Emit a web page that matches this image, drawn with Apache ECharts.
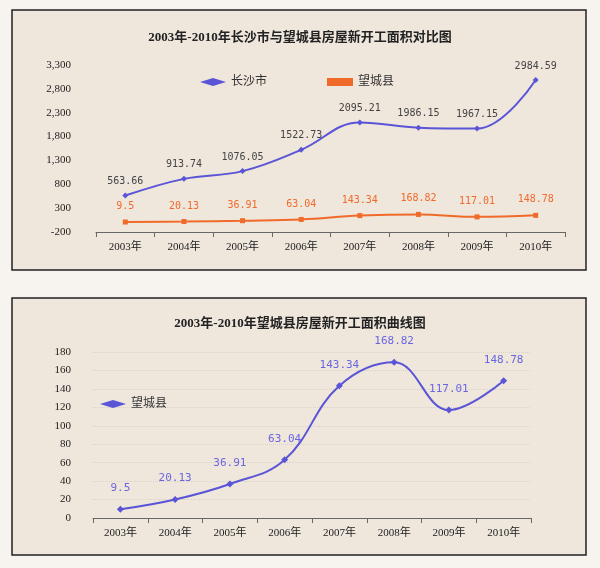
<!DOCTYPE html>
<html>
<head>
<meta charset="utf-8">
<script src="https://cdn.jsdelivr.net/npm/echarts@6/dist/echarts.min.js"></script>
<style>html,body{margin:0;padding:0;background:#f7f3ee;}#container{width:600px;height:568px;}</style>
</head>
<body>
<div id="container"></div>
<script>
var years = ['2003年', '2004年', '2005年', '2006年', '2007年', '2008年', '2009年', '2010年'];
var changsha = [563.66, 913.74, 1076.05, 1522.73, 2095.21, 1986.15, 1967.15, 2984.59];
var wangcheng = [9.5, 20.13, 36.91, 63.04, 143.34, 168.82, 117.01, 148.78];

var blue = '#5a55d6';
var orange = '#f06a2a';
var font = '"Liberation Serif", "Noto Sans CJK SC", serif';
var numFont = '"DejaVu Sans Mono", monospace';

var myChart = echarts.init(document.getElementById('container'));
var option = {
    backgroundColor: '#f7f3ee',
    graphic: [
        { type: 'rect', shape: { x: 12, y: 10, width: 574, height: 260 }, style: { fill: '#efe6dc', stroke: '#222', lineWidth: 1.5 }, z: -10 },
        { type: 'rect', shape: { x: 12, y: 298, width: 574, height: 257 }, style: { fill: '#efe6dc', stroke: '#222', lineWidth: 1.5 }, z: -10 }
    ],
    title: [
        { text: '2003年-2010年长沙市与望城县房屋新开工面积对比图', left: 'center', top: 26,
          textStyle: { fontSize: 13, fontWeight: 'bold', color: '#222', fontFamily: font } },
        { text: '2003年-2010年望城县房屋新开工面积曲线图', left: 'center', top: 312,
          textStyle: { fontSize: 13, fontWeight: 'bold', color: '#222', fontFamily: font } }
    ],
    legend: [
        { left: 195, top: 71, itemGap: 60, itemWidth: 26, itemHeight: 8,
          textStyle: { fontSize: 12, color: '#333', fontFamily: font },
          data: [{ name: '长沙市', icon: 'diamond', itemStyle: { color: blue }, lineStyle: { color: blue } },
                 { name: '望城县', icon: 'rect', itemStyle: { color: orange }, lineStyle: { color: orange } }] },
        { left: 95, top: 393, itemWidth: 26, itemHeight: 8,
          textStyle: { fontSize: 12, color: '#333', fontFamily: font },
          data: [{ name: '望城县', icon: 'diamond', itemStyle: { color: blue }, lineStyle: { color: blue } }] }
    ],
    grid: [
        { left: 96, right: 35, top: 65, height: 167 },
        { left: 93, right: 69, top: 352, height: 166 }
    ],
    xAxis: [0, 1].map(function (i) {
        return {
            type: 'category', gridIndex: i, data: years, boundaryGap: true,
            axisLine: { onZero: false, lineStyle: { color: '#666' } },
            axisTick: { show: true, lineStyle: { color: '#666' } },
            axisLabel: { color: '#222', fontSize: 11, fontFamily: font, margin: 10 }
        };
    }),
    yAxis: [
        { type: 'value', gridIndex: 0, min: -200, max: 3300, interval: 500,
          axisLine: { show: false }, axisTick: { show: false },
          axisLabel: { color: '#222', fontSize: 11, fontFamily: font, margin: 25, formatter: '{value}' },
          splitLine: { show: false } },
        { type: 'value', gridIndex: 1, min: 0, max: 180, interval: 20,
          axisLine: { show: false }, axisTick: { show: false },
          axisLabel: { color: '#222', fontSize: 11, fontFamily: font, margin: 22, formatter: '{value}' },
          splitLine: { lineStyle: { color: '#d8d2cc', type: 'dotted' } } }
    ],
    series: [
        { name: '长沙市', type: 'line', xAxisIndex: 0, yAxisIndex: 0, data: changsha, smooth: 0.4,
          symbol: 'diamond', symbolSize: 6, itemStyle: { color: blue }, lineStyle: { color: blue, width: 2 },
          label: { show: true, position: 'top', color: '#444', fontSize: 10, fontFamily: numFont, distance: 6 } },
        { name: '望城县', type: 'line', xAxisIndex: 0, yAxisIndex: 0, data: wangcheng, smooth: 0.4,
          symbol: 'rect', symbolSize: 5, itemStyle: { color: orange }, lineStyle: { color: orange, width: 2 },
          label: { show: true, position: 'top', color: orange, fontSize: 10, fontFamily: numFont, distance: 8 } },
        { name: '望城县', type: 'line', xAxisIndex: 1, yAxisIndex: 1, data: wangcheng, smooth: 0.4,
          symbol: 'diamond', symbolSize: 7, itemStyle: { color: blue }, lineStyle: { color: blue, width: 2 },
          label: { show: true, position: 'top', color: '#6a66e0', fontSize: 11, fontFamily: numFont, distance: 12 } }
    ]
};
myChart.setOption(option);
</script>
</body>
</html>
